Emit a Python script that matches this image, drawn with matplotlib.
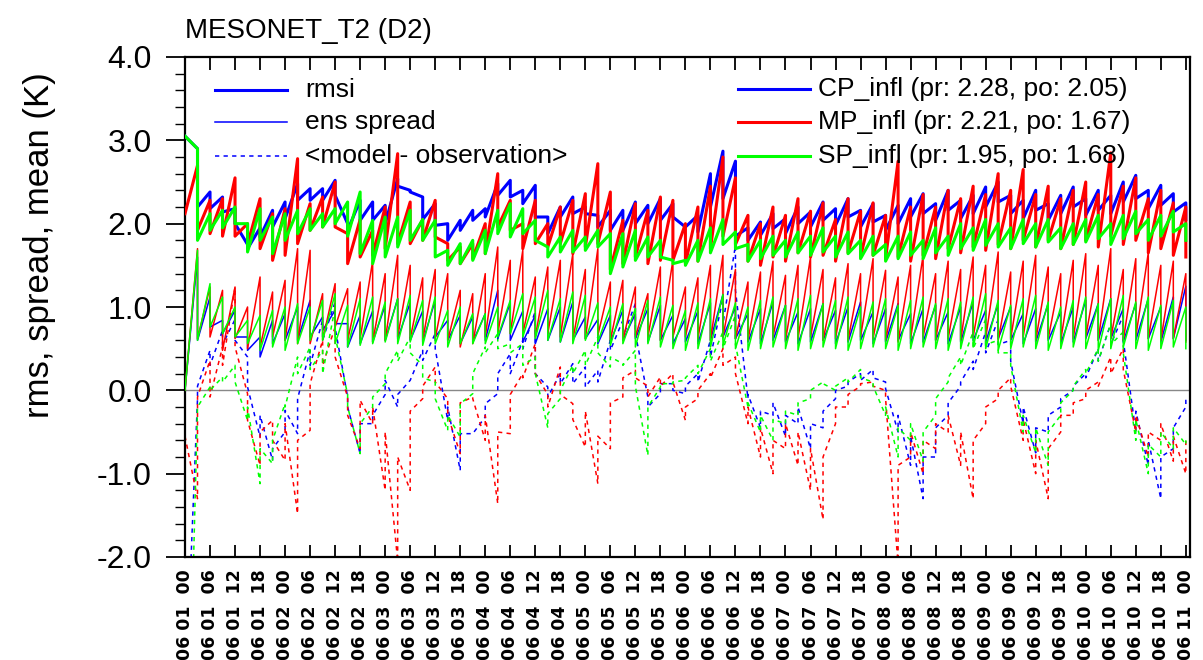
import numpy as np
import matplotlib.pyplot as plt

plt.rcParams['font.family'] = ['Liberation Sans', 'DejaVu Sans']

# analysis cycles every 3 h, 06 01 00 -> 06 11 00
hours = np.arange(81) * 3

# rmsi (prior / posterior)
rmsi_cp_pr = [3.05, 2.90, 2.38, 2.32, 2.18, 1.75, 1.95, 2.16, 2.26, 2.48,
              2.42, 2.42, 2.52, 2.00, 2.28, 2.26, 2.22, 2.54, 2.40, 2.32,
              2.24, 2.00, 2.04, 2.16, 2.18, 2.48, 2.52, 2.40, 2.46, 2.08,
              2.20, 2.32, 2.20, 2.10, 2.16, 2.16, 2.26, 2.22, 2.30, 2.24,
              1.96, 2.10, 2.60, 2.87, 2.75, 1.95, 2.02, 2.12, 2.06, 2.20,
              2.14, 2.26, 2.18, 2.30, 2.16, 2.24, 2.10, 2.22, 2.30, 2.36,
              2.24, 2.40, 2.28, 2.34, 2.44, 2.50, 2.34, 2.28, 2.40, 2.24,
              2.34, 2.44, 2.30, 2.40, 2.34, 2.50, 2.58, 2.40, 2.46, 2.36,
              2.25]
rmsi_cp_po = [3.05, 2.20, 2.18, 2.14, 2.00, 1.70, 1.84, 1.96, 2.06, 2.28,
              2.28, 2.28, 2.34, 1.92, 2.04, 2.04, 2.00, 2.45, 2.38, 2.05,
              1.98, 1.80, 1.92, 2.04, 2.08, 2.34, 2.32, 2.24, 2.08, 1.88,
              2.08, 2.12, 2.12, 1.96, 1.92, 1.92, 2.00, 2.00, 2.04, 2.08,
              1.96, 1.90, 2.20, 2.30, 1.85, 1.80, 1.86, 1.94, 1.88, 2.00,
              1.96, 2.04, 1.98, 2.08, 1.96, 2.02, 1.92, 2.00, 2.08, 2.12,
              2.04, 2.16, 2.06, 2.12, 2.20, 2.26, 2.12, 2.06, 2.16, 2.04,
              2.12, 2.20, 2.10, 2.16, 2.12, 2.26, 2.30, 2.18, 2.22, 2.14,
              2.05]
rmsi_mp_pr = [2.12, 2.70, 2.28, 2.30, 2.55, 2.00, 2.30, 2.12, 2.18, 2.78,
              2.24, 2.32, 2.50, 1.88, 2.05, 1.92, 2.20, 2.84, 2.26, 2.05,
              2.28, 1.76, 1.72, 1.76, 2.00, 2.60, 2.28, 2.00, 2.28, 2.00,
              2.20, 2.28, 2.36, 2.72, 2.38, 2.04, 2.24, 2.16, 2.32, 2.28,
              2.00, 2.20, 2.45, 2.80, 2.55, 2.10, 2.00, 2.20, 2.10, 2.30,
              2.15, 2.25, 2.05, 2.30, 2.15, 2.25, 2.10, 2.75, 2.20, 2.35,
              2.20, 2.40, 2.30, 2.45, 2.35, 2.60, 2.40, 2.65, 2.35, 2.45,
              2.30, 2.40, 2.50, 2.35, 2.85, 2.45, 2.55, 2.30, 2.40, 2.25,
              2.20]
rmsi_mp_po = [2.12, 1.92, 1.88, 1.85, 1.85, 1.75, 1.70, 1.56, 1.62, 1.76,
              1.92, 1.96, 1.96, 1.52, 1.60, 1.62, 1.70, 1.76, 1.76, 1.80,
              1.84, 1.56, 1.52, 1.58, 1.64, 1.96, 1.92, 1.70, 1.76, 1.72,
              1.76, 1.64, 1.72, 1.76, 1.45, 1.52, 1.60, 1.52, 1.56, 1.56,
              1.52, 1.55, 1.70, 1.85, 1.75, 1.55, 1.50, 1.60, 1.55, 1.65,
              1.60, 1.62, 1.55, 1.65, 1.60, 1.62, 1.58, 1.60, 1.55, 1.62,
              1.58, 1.70, 1.65, 1.72, 1.68, 1.75, 1.70, 1.80, 1.72, 1.80,
              1.70, 1.75, 1.80, 1.72, 1.85, 1.75, 1.80, 1.65, 1.70, 1.62,
              1.60]
rmsi_sp_pr = [3.05, 2.90, 2.12, 2.16, 2.20, 2.00, 2.18, 2.08, 2.12, 2.16,
              2.18, 2.12, 2.18, 2.26, 2.38, 2.04, 2.08, 2.08, 2.16, 2.05,
              2.04, 1.68, 1.76, 1.80, 1.92, 2.16, 2.24, 2.18, 2.04, 1.72,
              1.84, 1.92, 1.84, 1.92, 1.88, 1.88, 1.92, 1.84, 1.80, 1.56,
              1.56, 1.80, 1.95, 2.05, 1.90, 1.75, 1.80, 1.85, 1.80, 1.90,
              1.85, 1.95, 1.85, 1.90, 1.80, 1.85, 1.75, 1.85, 1.90, 1.80,
              1.95, 1.85, 2.00, 1.95, 2.05, 2.00, 1.95, 2.05, 2.00, 2.05,
              1.95, 2.00, 2.05, 2.10, 2.00, 2.10, 2.15, 2.05, 2.10, 2.15,
              2.00]
rmsi_sp_po = [3.05, 1.80, 1.92, 1.95, 2.00, 1.66, 1.80, 1.64, 1.80, 1.88,
              1.92, 1.96, 2.00, 1.85, 1.64, 1.52, 1.60, 1.72, 1.80, 1.80,
              1.60, 1.50, 1.52, 1.56, 1.64, 1.88, 1.84, 1.88, 1.80, 1.60,
              1.66, 1.66, 1.68, 1.72, 1.40, 1.48, 1.56, 1.60, 1.60, 1.52,
              1.50, 1.55, 1.65, 1.75, 1.70, 1.55, 1.58, 1.62, 1.60, 1.65,
              1.62, 1.66, 1.60, 1.64, 1.58, 1.62, 1.55, 1.58, 1.62, 1.58,
              1.65, 1.62, 1.70, 1.68, 1.74, 1.72, 1.70, 1.76, 1.72, 1.78,
              1.70, 1.75, 1.78, 1.82, 1.75, 1.82, 1.88, 1.80, 1.85, 1.90,
              1.80]

# ensemble spread (prior / posterior)
spread_cp_pr = [0.00, 1.60, 1.12, 0.84, 0.96, 0.64, 0.64, 0.84, 0.92, 1.00,
                1.08, 0.88, 0.96, 0.80, 0.90, 0.95, 1.02, 1.10, 1.05, 0.95,
                1.08, 0.84, 0.90, 0.88, 0.92, 1.20, 1.05, 0.95, 0.90, 0.98,
                1.00, 1.06, 0.88, 0.85, 0.90, 0.96, 0.92, 0.98, 1.02, 0.90,
                0.86, 0.95, 1.05, 1.15, 1.00, 0.92, 0.98, 1.06, 1.02, 0.94,
                0.98, 1.04, 0.96, 1.00, 1.06, 0.94, 0.98, 1.04, 0.92, 0.98,
                1.02, 0.94, 1.00, 1.06, 0.96, 1.04, 1.00, 0.92, 0.98, 1.04,
                0.94, 1.00, 1.08, 1.04, 1.10, 0.98, 1.04, 1.10, 1.00, 1.12,
                1.25]
spread_cp_po = [0.00, 0.60, 0.76, 0.68, 0.64, 0.48, 0.40, 0.56, 0.60, 0.60,
                0.64, 0.72, 0.80, 0.52, 0.56, 0.58, 0.60, 0.62, 0.60, 0.58,
                0.64, 0.60, 0.56, 0.58, 0.60, 0.62, 0.60, 0.58, 0.56, 0.60,
                0.58, 0.60, 0.62, 0.56, 0.58, 0.60, 0.62, 0.58, 0.60, 0.56,
                0.58, 0.56, 0.60, 0.64, 0.62, 0.58, 0.56, 0.60, 0.58, 0.56,
                0.58, 0.60, 0.56, 0.58, 0.60, 0.56, 0.58, 0.60, 0.56, 0.58,
                0.60, 0.56, 0.58, 0.60, 0.58, 0.62, 0.60, 0.56, 0.58, 0.60,
                0.56, 0.58, 0.62, 0.60, 0.62, 0.58, 0.60, 0.62, 0.58, 0.62,
                0.60]
spread_mp_pr = [0.00, 1.70, 1.24, 1.20, 1.24, 1.00, 1.36, 1.18, 1.32, 1.70,
                1.68, 1.16, 1.28, 1.22, 1.30, 1.55, 1.40, 1.62, 1.50, 1.35,
                1.45, 1.40, 1.20, 1.16, 1.40, 1.72, 1.56, 1.68, 1.36, 1.48,
                1.56, 1.64, 1.45, 1.70, 1.30, 1.32, 1.24, 1.16, 1.48, 1.56,
                1.24, 1.35, 1.50, 1.62, 1.45, 1.30, 1.42, 1.55, 1.38, 1.50,
                1.60, 1.45, 1.35, 1.52, 1.40, 1.58, 1.44, 1.36, 1.50, 1.62,
                1.40, 1.55, 1.45, 1.60, 1.50, 1.66, 1.42, 1.55, 1.62, 1.48,
                1.40, 1.56, 1.64, 1.50, 1.70, 1.45, 1.58, 1.65, 1.50, 1.55,
                1.40]
spread_mp_po = [0.00, 0.62, 0.64, 0.48, 0.62, 0.50, 0.52, 0.64, 0.60, 0.56,
                0.56, 0.60, 0.76, 0.60, 0.62, 0.58, 0.60, 0.64, 0.62, 0.60,
                0.62, 0.60, 0.52, 0.56, 0.64, 0.68, 0.68, 0.68, 0.64, 0.68,
                0.64, 0.60, 0.62, 0.66, 0.60, 0.60, 0.64, 0.64, 0.60, 0.64,
                0.64, 0.62, 0.60, 0.64, 0.62, 0.60, 0.62, 0.64, 0.60, 0.62,
                0.64, 0.60, 0.62, 0.60, 0.64, 0.62, 0.60, 0.58, 0.62, 0.64,
                0.60, 0.62, 0.60, 0.64, 0.62, 0.60, 0.62, 0.64, 0.60, 0.62,
                0.60, 0.62, 0.64, 0.60, 0.62, 0.60, 0.64, 0.62, 0.60, 0.62,
                0.58]
spread_sp_pr = [0.00, 1.68, 1.28, 1.12, 1.00, 0.84, 0.90, 0.96, 1.00, 1.04,
                1.00, 1.08, 1.16, 1.02, 1.10, 1.12, 1.06, 1.10, 1.14, 1.08,
                1.12, 0.96, 1.00, 0.92, 0.92, 1.00, 1.08, 1.16, 1.12, 1.20,
                1.10, 1.18, 1.14, 1.05, 1.00, 1.04, 0.98, 1.08, 1.12, 1.02,
                0.96, 1.05, 1.10, 1.15, 1.05, 1.00, 1.08, 1.12, 1.02, 1.10,
                1.14, 1.04, 1.08, 1.12, 1.00, 1.06, 1.10, 1.02, 1.08, 1.12,
                1.04, 1.10, 1.06, 1.12, 1.16, 1.08, 1.02, 1.10, 1.14, 1.06,
                1.00, 1.08, 1.12, 1.04, 1.10, 1.14, 1.06, 1.12, 1.02, 1.08,
                1.00]
spread_sp_po = [0.00, 0.60, 0.76, 0.68, 0.64, 0.56, 0.48, 0.52, 0.48, 0.56,
                0.60, 0.60, 0.56, 0.52, 0.54, 0.56, 0.58, 0.56, 0.58, 0.54,
                0.56, 0.52, 0.56, 0.56, 0.56, 0.64, 0.68, 0.64, 0.62, 0.60,
                0.58, 0.56, 0.60, 0.58, 0.54, 0.56, 0.52, 0.56, 0.52, 0.50,
                0.48, 0.50, 0.52, 0.54, 0.50, 0.48, 0.50, 0.52, 0.50, 0.48,
                0.50, 0.52, 0.50, 0.48, 0.50, 0.52, 0.50, 0.48, 0.50, 0.52,
                0.50, 0.48, 0.50, 0.52, 0.50, 0.48, 0.50, 0.52, 0.50, 0.48,
                0.50, 0.52, 0.50, 0.48, 0.50, 0.52, 0.50, 0.48, 0.50, 0.52,
                0.50]

# <model - observation> (prior / posterior)
mean_cp_pr = [-3.80, -0.10, 0.48, 0.72, 0.85, 0.40, -0.56, -0.84, -0.50, -0.52,
              0.48, 0.84, 1.06, -0.08, -0.76, -0.40, -0.05, -0.20, 0.12, 0.48,
              0.68, -0.36, -0.96, -0.52, -0.32, -0.04, 0.44, 0.60, 0.95, 0.04,
              0.20, 0.32, 0.28, 0.24, 0.60, 0.84, 1.04, -0.08, -0.04, 0.08,
              -0.04, 0.20, 0.60, 1.10, 1.74, -0.10, -0.45, -0.30, -0.55, -0.40,
              -0.70, -0.45, -0.10, 0.05, 0.20, 0.25, 0.10, -0.50, -0.90, -1.30,
              -0.80, -0.30, 0.05, 0.35, 0.70, 0.85, 0.60, -0.40, -0.75, -0.50,
              -0.20, 0.00, 0.20, 0.50, 0.80, 0.90, -0.50, -0.90, -1.30, -0.70,
              -0.20]
mean_cp_po = [-3.80, 0.05, 0.30, 0.55, 0.60, 0.04, -0.30, -0.70, -0.24, -0.10,
              0.30, 0.60, 0.75, -0.20, -0.40, -0.30, 0.12, -0.05, 0.12, 0.36,
              0.50, -0.20, -0.52, -0.52, -0.16, 0.20, 0.20, 0.50, 0.20, -0.08,
              0.08, 0.08, 0.04, 0.10, 0.48, 0.64, 0.68, -0.20, 0.08, 0.00,
              0.05, 0.10, 0.40, 0.80, 1.20, -0.05, -0.25, -0.15, -0.30, -0.20,
              -0.40, -0.25, 0.00, 0.10, 0.12, 0.15, 0.02, -0.30, -0.55, -0.80,
              -0.45, -0.15, 0.10, 0.25, 0.45, 0.55, 0.35, -0.20, -0.45, -0.30,
              -0.10, 0.05, 0.15, 0.35, 0.55, 0.60, -0.25, -0.60, -0.80, -0.45,
              -0.10]
mean_mp_pr = [-0.55, -1.30, 0.36, 0.52, 1.24, -0.04, -0.90, -0.36, -0.84, -1.48,
              -0.48, 0.60, 0.76, -0.08, -0.70, -0.40, -1.20, -2.05, -1.20, -0.10,
              0.28, -0.10, -0.76, -0.08, -0.60, -1.36, -0.52, 0.20, 0.56, -0.05,
              0.28, -0.16, -0.68, -1.12, -0.70, -0.08, 0.24, 0.05, 0.16, 0.20,
              -0.36, -0.10, 0.20, 0.50, 0.40, -0.40, -0.80, -1.00, -0.70, -0.90,
              -1.20, -1.55, -0.40, -0.20, 0.05, 0.10, 0.00, -2.10, -0.80, -1.00,
              -0.70, -0.50, -0.90, -1.30, -0.40, -0.10, 0.15, -0.60, -1.00, -1.30,
              -0.50, -0.30, -0.10, 0.10, 0.40, 0.50, -0.50, -0.80, -0.60, -0.85,
              -1.00]
mean_mp_po = [-0.55, -0.08, -0.08, 0.30, 0.52, -0.36, -0.50, -0.60, -0.40, -0.60,
              0.08, 0.30, 0.40, -0.30, -0.12, -0.20, -0.50, -0.80, -0.25, 0.05,
              0.10, -0.30, -0.15, -0.10, -0.30, -0.50, -0.05, 0.15, 0.20, -0.20,
              -0.05, -0.35, -0.25, -0.55, -0.15, 0.15, 0.15, -0.08, 0.05, 0.10,
              -0.20, 0.00, 0.15, 0.30, 0.20, -0.20, -0.45, -0.60, -0.40, -0.50,
              -0.70, -0.80, -0.20, -0.05, 0.08, 0.05, -0.10, -0.90, -0.50, -0.60,
              -0.40, -0.30, -0.50, -0.60, -0.20, 0.00, 0.05, -0.35, -0.60, -0.70,
              -0.30, -0.15, 0.00, 0.05, 0.20, 0.25, -0.30, -0.50, -0.40, -0.55,
              -0.60]
mean_sp_pr = [-6.00, -0.20, 0.04, 0.16, 0.30, -0.36, -1.12, -0.88, -0.16, 0.40,
              0.52, 0.48, 1.00, -0.05, -0.76, -0.20, 0.08, 0.48, 0.64, 0.30,
              0.10, -0.48, -0.56, -0.04, 0.52, 0.68, 0.56, 0.56, 0.40, -0.45,
              -0.10, 0.30, 0.48, 0.64, 0.28, 0.32, 0.48, -0.78, 0.04, 0.08,
              0.12, 0.30, 0.50, 0.70, 0.90, -0.20, -0.50, -0.60, -0.40, -0.30,
              -0.10, 0.10, 0.00, 0.15, 0.25, 0.10, -0.30, -0.80, -0.60, -0.85,
              -0.30, 0.10, 0.40, 0.70, 0.85, 0.60, 0.45, -0.50, -0.75, -0.90,
              -0.30, 0.00, 0.25, 0.50, 0.80, 0.70, -0.60, -1.00, -0.80, -0.70,
              -0.65]
mean_sp_po = [-6.00, -0.20, 0.00, 0.10, 0.10, -0.20, -0.70, -0.60, -0.20, 0.20,
              0.25, 0.20, 0.65, -0.20, -0.40, -0.08, 0.20, 0.35, 0.45, 0.15,
              -0.10, -0.30, -0.16, 0.20, 0.45, 0.50, 0.45, 0.30, 0.20, -0.28,
              0.00, 0.20, 0.30, 0.45, 0.40, 0.30, 0.05, -0.20, 0.08, 0.10,
              0.15, 0.20, 0.35, 0.50, 0.55, -0.15, -0.30, -0.35, -0.25, -0.15,
              0.00, 0.08, 0.05, 0.10, 0.15, 0.05, -0.20, -0.45, -0.40, -0.50,
              -0.10, 0.15, 0.30, 0.50, 0.55, 0.45, 0.30, -0.30, -0.45, -0.50,
              -0.15, 0.05, 0.20, 0.35, 0.55, 0.45, -0.35, -0.65, -0.50, -0.45,
              -0.60]

models = ['CP_infl', 'MP_infl', 'SP_infl']
colors = ['#0000ff', '#ff0000', '#00ff00']
legend_stats = ['(pr: 2.28, po: 2.05)', '(pr: 2.21, po: 1.67)', '(pr: 1.95, po: 1.68)']


def sawtooth(pr, po):
    # prior and posterior at the same analysis time -> vertical drop each cycle
    x = np.repeat(hours, 2)
    y = np.column_stack([pr, po]).ravel()
    return x, y


fig = plt.figure(figsize=(12.03, 6.6), dpi=100)
ax = fig.add_axes([185 / 1203, 1 - 557 / 660, 1005 / 1203, 500 / 660])

ax.axhline(0, color='#888888', lw=1.0, zorder=1)

series = [
    (rmsi_cp_pr, rmsi_cp_po, spread_cp_pr, spread_cp_po, mean_cp_pr, mean_cp_po),
    (rmsi_mp_pr, rmsi_mp_po, spread_mp_pr, spread_mp_po, mean_mp_pr, mean_mp_po),
    (rmsi_sp_pr, rmsi_sp_po, spread_sp_pr, spread_sp_po, mean_sp_pr, mean_sp_po),
]
for (r_pr, r_po, s_pr, s_po, m_pr, m_po), c in zip(series, colors):
    ax.plot(*sawtooth(m_pr, m_po), color=c, lw=1.1, ls=(0, (2.8, 2.8)), zorder=2)
for (r_pr, r_po, s_pr, s_po, m_pr, m_po), c in zip(series, colors):
    ax.plot(*sawtooth(s_pr, s_po), color=c, lw=1.1, zorder=3)
for (r_pr, r_po, s_pr, s_po, m_pr, m_po), c in zip(series, colors):
    ax.plot(*sawtooth(r_pr, r_po), color=c, lw=2.2, zorder=4)

ax.set_xlim(0, 241)
ax.set_ylim(-2, 4)

tick_hours = np.arange(0, 241, 6)
tick_labels = [f"06 {1 + h // 24:02d}  {h % 24:02d}" for h in tick_hours]
ax.set_xticks(tick_hours)
ax.set_xticklabels(tick_labels, rotation=90, fontsize=12.5, family='DejaVu Sans',
                   fontweight='bold')
ax.tick_params(axis='x', which='both', direction='in', length=9, width=1.3,
               top=True, bottom=True, pad=9)

ax.set_yticks(np.arange(-2, 4.01, 1.0))
ax.set_yticklabels([f"{v:.1f}" for v in np.arange(-2, 4.01, 1.0)], fontsize=23)
ax.set_yticks(np.arange(-2, 4.01, 0.2), minor=True)
ax.tick_params(axis='y', which='major', direction='out', length=14, width=1.3, pad=10)
ax.tick_params(axis='y', which='minor', direction='out', length=7, width=1.0)

for sp in ax.spines.values():
    sp.set_linewidth(1.6)

fig.text(40 / 1203, 1 - 245 / 660, 'rms, spread, mean (K)', rotation=90,
         ha='center', va='center', fontsize=25)
fig.text(185 / 1203, 1 - 31 / 660, 'MESONET_T2 (D2)', ha='left', va='center',
         fontsize=20)

# left legend block: line styles
left_rows = [0.934, 0.870, 0.802]
ax.plot([0.0299, 0.1015], [left_rows[0]] * 2, color='#0000ff', lw=2.2,
        transform=ax.transAxes, zorder=5)
ax.plot([0.0299, 0.1015], [left_rows[1]] * 2, color='#0000ff', lw=1.1,
        transform=ax.transAxes, zorder=5)
ax.plot([0.0299, 0.1015], [left_rows[2]] * 2, color='#0000ff', lw=1.1,
        ls=(0, (2.8, 2.8)), transform=ax.transAxes, zorder=5)
for yy, txt in zip(left_rows, ['rmsi', 'ens spread', '<model - observation>']):
    ax.text(0.1194, yy, txt, transform=ax.transAxes, fontsize=19,
            ha='left', va='center', zorder=5)

# right legend block: experiments
right_rows = [0.936, 0.870, 0.802]
for yy, name, stat, c in zip(right_rows, models, legend_stats, colors):
    ax.plot([0.550, 0.622], [yy, yy], color=c, lw=2.2, transform=ax.transAxes, zorder=5)
    ax.text(0.630, yy, f"{name} {stat}", transform=ax.transAxes, fontsize=19,
            ha='left', va='center', zorder=5)

fig.savefig('out.png', dpi=100)
